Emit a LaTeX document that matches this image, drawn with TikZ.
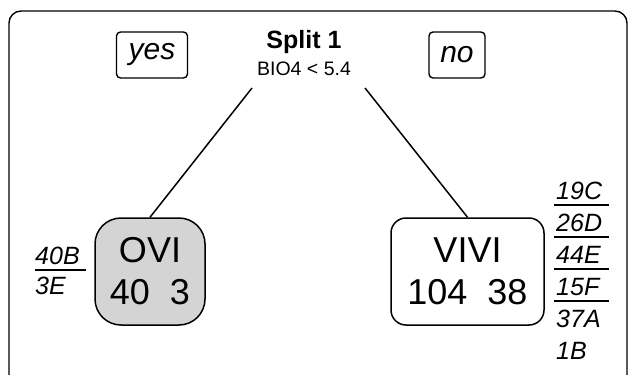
\documentclass[tikz,border=0pt]{standalone}
\usepackage{fontspec}
\setmainfont{Liberation Sans}
\usetikzlibrary{positioning}
\tikzstyle{side} = [draw, line width=1.4pt, rounded corners=4pt, minimum height=46pt, font={\fontsize{30}{34}\selectfont\itshape}]
\tikzstyle{leaf} = [draw, line width=1.5pt, align=center, minimum height=107pt, font={\fontsize{36}{42}\selectfont}]
\tikzstyle{ovi} = [leaf, fill=black!17, rounded corners=26pt, minimum width=110pt]
\tikzstyle{vivi} = [leaf, rounded corners=15pt, minimum width=153pt]
\tikzstyle{tag} = [anchor=base west, inner sep=0pt, font={\fontsize{25}{29}\selectfont\itshape}]
\tikzstyle{rule} = [line width=1.3pt]
\tikzstyle{branch} = [line width=1.5pt]

\begin{document}
\begin{tikzpicture}[x=1pt,y=-1pt]
    \useasboundingbox (0,0) rectangle (630,375);
    \clip (0,0) rectangle (630,375);
    % outer frame
    \draw[line width=1.4pt, rounded corners=12pt] (9,11) rectangle (627,420);
    % split header
    \node[side, minimum width=71pt](yes) at (152,55){yes};
    \node[side, minimum width=56pt](no) at (457,55){no};
    \node[anchor=base, font={\fontsize{25}{28}\selectfont\bfseries}](split) at (304,48){Split 1};
    \node[anchor=base, font={\fontsize{19.5}{23}\selectfont}](cond) at (304,75){BIO4 < 5.4};
    \coordinate (l) at (252,88);
    \coordinate (r) at (365,88);
    % leaves
    \node[ovi](ovileaf) at (150,271.5){OVI\\40~~3};
    \node[vivi](vivileaf) at (467.5,271.5){VIVI\\104~~38};
    \draw[branch](l)--(ovileaf.north);
    \draw[branch](r)--(vivileaf.north);
    % observed counts, left leaf
    \node[tag](a1) at (35,264){40B};
    \node[tag](a2) at (35,294){3E};
    \draw[rule]([yshift=-6pt]a1.base west)--++(51,0);
    % observed counts, right leaf
    \node[tag](b1) at (556,199){19C};
    \node[tag](b2) at (556,231){26D};
    \node[tag](b3) at (556,263){44E};
    \node[tag](b4) at (556,295){15F};
    \node[tag](b5) at (556,327){37A};
    \node[tag](b6) at (556,359){1B};
    \foreach \n in {b1,b2,b3,b4}
        \draw[rule]([xshift=-2pt,yshift=-6pt]\n.base west)--++(55,0);
\end{tikzpicture}
\end{document}
